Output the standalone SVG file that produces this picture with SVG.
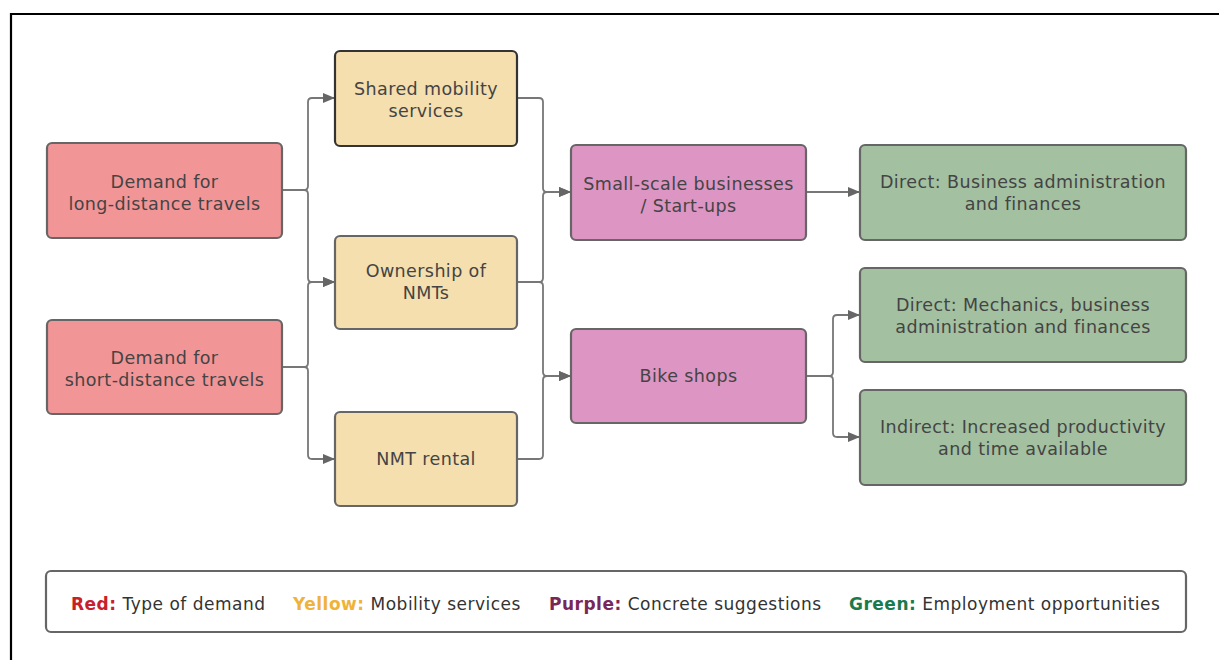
<svg xmlns="http://www.w3.org/2000/svg" width="1219" height="660" viewBox="0 0 1219 660">
  <defs>
    <marker id="arrow" viewBox="0 0 12 10" refX="12" refY="5" markerWidth="12" markerHeight="10" markerUnits="userSpaceOnUse" orient="auto">
      <path d="M0,0 L12,5 L0,10 Z" fill="#666"/>
    </marker>
    <style>
      .node rect { stroke: #666; stroke-width: 2.2; }
      .red rect { fill: #f29597; }
      .yellow rect { fill: #f5dfae; }
      .purple rect { fill: #dd95c3; }
      .green rect { fill: #a3c0a1; }
      .node text { font-family: "DejaVu Sans", Verdana, sans-serif; font-size: 17.5px; letter-spacing: 0.4px; fill: #444; text-anchor: middle; }
      .conn path { fill: none; stroke: #777; stroke-width: 1.8; }
      .legend text { font-family: "DejaVu Sans", Verdana, sans-serif; font-size: 17px; letter-spacing: 0.5px; fill: #333; }
      .legend .k { font-weight: bold; }
    </style>
  </defs>

  <rect width="1219" height="660" fill="#fff"/>
  <!-- page frame -->
  <path d="M11,660 V14 H1219" fill="none" stroke="#000" stroke-width="2.2"/>

  <!-- connectors -->
  <g id="connectors" class="conn">
    <path d="M282,190 H304 Q308,190 308,186 V102 Q308,98 312,98 H335" marker-end="url(#arrow)"/>
    <path d="M282,190 H304 Q308,190 308,194 V278 Q308,282 312,282 H335" marker-end="url(#arrow)"/>
    <path d="M282,367 H304 Q308,367 308,363 V286 Q308,282 312,282 H335" marker-end="url(#arrow)"/>
    <path d="M282,367 H304 Q308,367 308,371 V455 Q308,459 312,459 H335" marker-end="url(#arrow)"/>
    <path d="M517,98 H539 Q543,98 543,102 V188 Q543,192 547,192 H571" marker-end="url(#arrow)"/>
    <path d="M517,282 H539 Q543,282 543,278 V196 Q543,192 547,192 H571" marker-end="url(#arrow)"/>
    <path d="M517,282 H539 Q543,282 543,286 V372 Q543,376 547,376 H571" marker-end="url(#arrow)"/>
    <path d="M517,459 H539 Q543,459 543,455 V380 Q543,376 547,376 H571" marker-end="url(#arrow)"/>
    <path d="M806,192 H860" marker-end="url(#arrow)"/>
    <path d="M806,376 H829 Q833,376 833,372 V319 Q833,315 837,315 H860" marker-end="url(#arrow)"/>
    <path d="M806,376 H829 Q833,376 833,380 V433 Q833,437 837,437 H860" marker-end="url(#arrow)"/>
  </g>

  <!-- demand types -->
  <g id="demand-long" class="node red">
    <rect x="47" y="143" width="235" height="95" rx="5"/>
    <text x="164.5" y="188">Demand for</text>
    <text x="164.5" y="210">long-distance travels</text>
  </g>
  <g id="demand-short" class="node red">
    <rect x="47" y="320" width="235" height="94" rx="5"/>
    <text x="164.5" y="364">Demand for</text>
    <text x="164.5" y="386">short-distance travels</text>
  </g>

  <!-- mobility services -->
  <g id="shared-mobility" class="node yellow">
    <rect x="335" y="51" width="182" height="95" rx="5" style="stroke:#333"/>
    <text x="426" y="95">Shared mobility</text>
    <text x="426" y="117">services</text>
  </g>
  <g id="ownership-nmt" class="node yellow">
    <rect x="335" y="236" width="182" height="93" rx="5"/>
    <text x="426" y="277">Ownership of</text>
    <text x="426" y="299">NMTs</text>
  </g>
  <g id="nmt-rental" class="node yellow">
    <rect x="335" y="412" width="182" height="94" rx="5"/>
    <text x="426" y="465">NMT rental</text>
  </g>

  <!-- concrete suggestions -->
  <g id="small-business" class="node purple">
    <rect x="571" y="145" width="235" height="95" rx="5"/>
    <text x="688.5" y="190">Small-scale businesses</text>
    <text x="688.5" y="212">/ Start-ups</text>
  </g>
  <g id="bike-shops" class="node purple">
    <rect x="571" y="329" width="235" height="94" rx="5"/>
    <text x="688.5" y="382">Bike shops</text>
  </g>

  <!-- employment opportunities -->
  <g id="direct-business" class="node green">
    <rect x="860" y="145" width="326" height="95" rx="5"/>
    <text x="1023" y="188">Direct: Business administration</text>
    <text x="1023" y="210">and finances</text>
  </g>
  <g id="direct-mechanics" class="node green">
    <rect x="860" y="268" width="326" height="94" rx="5"/>
    <text x="1023" y="311">Direct: Mechanics, business</text>
    <text x="1023" y="333">administration and finances</text>
  </g>
  <g id="indirect-productivity" class="node green">
    <rect x="860" y="390" width="326" height="95" rx="5"/>
    <text x="1023" y="433">Indirect: Increased productivity</text>
    <text x="1023" y="455">and time available</text>
  </g>

  <!-- legend -->
  <g id="legend" class="legend">
    <rect x="46" y="571" width="1140" height="61" rx="5" fill="#fff" stroke="#666" stroke-width="2.2"/>
    <text x="71" y="610"><tspan class="k" fill="#c8202a">Red:</tspan> Type of demand</text>
    <text x="293" y="610"><tspan class="k" fill="#efb33a">Yellow:</tspan> Mobility services</text>
    <text x="549" y="610"><tspan class="k" fill="#7a2757">Purple:</tspan> Concrete suggestions</text>
    <text x="849" y="610"><tspan class="k" fill="#1b7a4c">Green:</tspan> Employment opportunities</text>
  </g>
</svg>
